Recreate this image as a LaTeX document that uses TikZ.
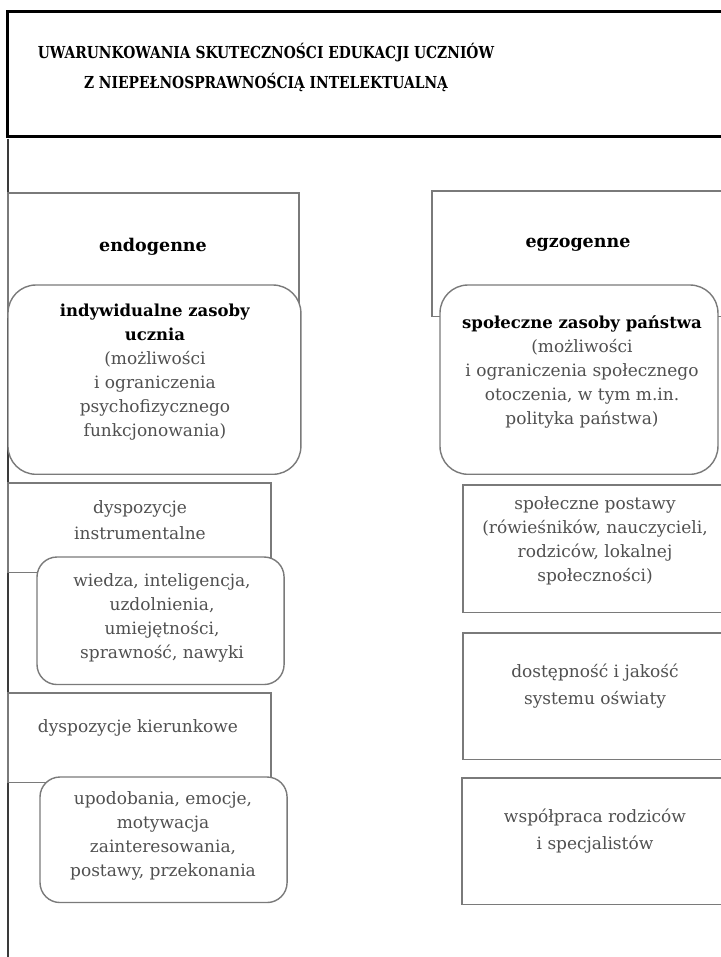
\documentclass[tikz,border=0pt]{standalone}
\usepackage{fontspec}
\setmainfont{DejaVu Serif}
\newfontfamily\titlefont[FakeStretch=0.84]{DejaVu Serif}
\definecolor{linegray}{HTML}{7A7A7A}
\definecolor{textgray}{HTML}{505050}
\definecolor{spinegray}{HTML}{3A3A3A}
\begin{document}
\begin{tikzpicture}[x=1bp,y=-1bp,
  boxline/.style={draw=linegray, line width=1.4bp, fill=white, inner sep=0, outer sep=0, anchor=north west},
  rbox/.style={boxline, rounded corners=#1},
  titlebox/.style={draw=black, line width=3bp, fill=white, inner sep=0, outer sep=0, anchor=north west},
  body/.style={text=textgray, font=\fontsize{17bp}{24bp}\selectfont, align=center, inner sep=0},
  head/.style={text=black, font=\bfseries\fontsize{17.5bp}{24bp}\selectfont, align=center, inner sep=0},
  titletext/.style={text=black, font=\titlefont\bfseries\fontsize{16.5bp}{30bp}\selectfont, align=center, inner sep=0},
  spine/.style={draw=spinegray, line width=2.5bp}
]
\useasboundingbox (0,0) rectangle (721,957);
\clip (0,0) rectangle (721,957);
\fill[white] (0,0) rectangle (721,957);

% title
\node[titlebox, minimum width=760, minimum height=126] (title) at (7,11) {};
\node[titletext] (titlet) at (266,67) {UWARUNKOWANIA SKUTECZNOŚCI EDUKACJI UCZNIÓW\\Z NIEPEŁNOSPRAWNOŚCIĄ INTELEKTUALNĄ};

% spine
\coordinate (spinetop) at (8,138.5);
\coordinate (spinebot) at (8,960);
\draw[spine] (spinetop) -- (spinebot);

% endogenne
\node[boxline, minimum width=292, minimum height=125] (endo) at (8,193) {};
\draw[linegray, line width=2.6bp] (endo.north east) -- (endo.south east);
\node[head] (endot) at (153,247) {endogenne};
\node[rbox=28bp, minimum width=294, minimum height=190] (indyw) at (8,285) {};
\node[body] (indywt) at (155,372.5) {\textcolor{black}{\fontsize{16.5bp}{24bp}\selectfont\textbf{indywidualne zasoby}}\\\textcolor{black}{\fontsize{16.5bp}{24bp}\selectfont\textbf{ucznia}}\\(możliwości\\i ograniczenia\\psychofizycznego\\funkcjonowania)};

% egzogenne
\node[boxline, minimum width=330, minimum height=126] (egzo) at (432,191) {};
\node[head] (egzot) at (578,245) {egzogenne};
\node[rbox=28bp, minimum width=279, minimum height=190] (spol) at (440,285) {};
\node[body] (spolt) at (582,372) {\textcolor{black}{\fontsize{16.5bp}{24bp}\selectfont\textbf{społeczne zasoby państwa}}\\(możliwości\\i ograniczenia społecznego\\otoczenia, w tym m.in.\\polityka państwa)};

% left column
\node[boxline, minimum width=264, minimum height=90] (instr) at (8,483) {};
\node[body, font=\fontsize{17bp}{26bp}\selectfont] (instrt) at (140,520) {dyspozycje\\instrumentalne};
\node[rbox=20bp, minimum width=248, minimum height=128] (wiedza) at (37,557) {};
\node[body] (wiedzat) at (162,618) {wiedza, inteligencja,\\uzdolnienia,\\umiejętności,\\sprawność, nawyki};

\node[boxline, minimum width=264, minimum height=90] (kier) at (8,693) {};
\node[body] (kiert) at (138,728) {dyspozycje kierunkowe};
\node[rbox=20bp, minimum width=248, minimum height=126] (upod) at (40,777) {};
\node[body] (upodt) at (163,836) {upodobania, emocje,\\motywacja\\zainteresowania,\\postawy, przekonania};

% right column
\node[boxline, minimum width=300, minimum height=128] (postawy) at (463,485) {};
\node[body] (postawyt) at (595,541) {społeczne postawy\\(rówieśników, nauczycieli,\\rodziców, lokalnej\\społeczności)};
\node[boxline, minimum width=300, minimum height=127] (dost) at (463,633) {};
\node[body, font=\fontsize{17bp}{27bp}\selectfont] (dostt) at (595,686.5) {dostępność i jakość\\systemu oświaty};
\node[boxline, minimum width=300, minimum height=127] (wspol) at (462,778) {};
\node[body, font=\fontsize{17bp}{27bp}\selectfont] (wspolt) at (595,831.5) {współpraca rodziców\\i specjalistów};
\end{tikzpicture}
\end{document}
